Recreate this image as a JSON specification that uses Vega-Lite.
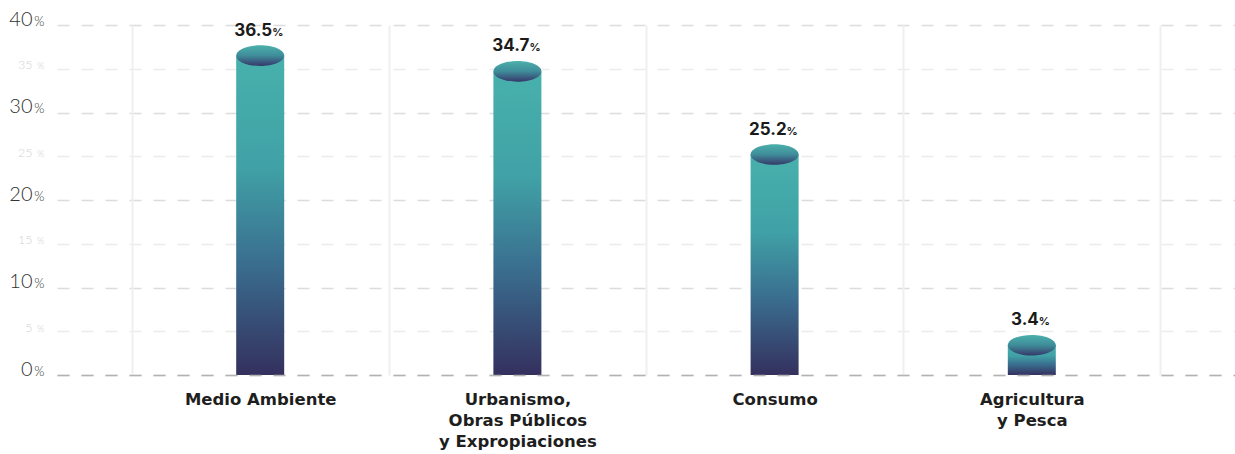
{
  "$schema": "https://vega.github.io/schema/vega-lite/v6.json",
  "width": 1178,
  "height": 350,
  "autosize": {"type": "none"},
  "padding": {"left": 57, "top": 25, "right": 0, "bottom": 79},
  "background": "white",
  "config": {"view": {"stroke": null}, "font": "Inter"},
  "data": {
    "values": [
      {"cat": "Medio Ambiente", "value": 36.5},
      {"cat": "Urbanismo,|Obras Públicos|y Expropiaciones", "value": 34.7},
      {"cat": "Consumo", "value": 25.2},
      {"cat": "Agricultura|y Pesca", "value": 3.4}
    ]
  },
  "encoding": {
    "x": {
      "field": "cat",
      "type": "nominal",
      "sort": null,
      "scale": {"paddingInner": 0, "paddingOuter": 0.29},
      "axis": {
        "title": null,
        "orient": "bottom",
        "labelExpr": "split(datum.label, '|')",
        "labelFont": "DejaVu Sans",
        "labelFontWeight": "bold",
        "labelFontSize": 16.5,
        "labelColor": "#1e1e1e",
        "labelLineHeight": 21,
        "labelPadding": 16,
        "labelAngle": 0,
        "labelBaseline": "top",
        "labelLimit": 300,
        "labelOverlap": false,
        "ticks": false,
        "tickBand": "extent",
        "grid": true,
        "gridColor": "#efefef",
        "gridWidth": 2,
        "domain": true,
        "domainColor": "#b3b3b3",
        "domainDash": [12, 12],
        "domainWidth": 1.5,
        "zindex": 1
      }
    }
  },
  "layer": [
    {
      "mark": {
        "type": "bar",
        "width": 48,
        "color": {
          "gradient": "linear",
          "x1": 0, "y1": 0, "x2": 0, "y2": 1,
          "stops": [
            {"offset": 0, "color": "#48b1ac"},
            {"offset": 0.35, "color": "#40a1a6"},
            {"offset": 0.65, "color": "#3a6e8f"},
            {"offset": 1, "color": "#34305e"}
          ]
        }
      },
      "encoding": {
        "y": {
          "field": "value",
          "type": "quantitative",
          "scale": {"domain": [0, 40], "nice": false},
          "axis": {
            "title": null,
            "orient": "left",
            "values": [0, 5, 10, 15, 20, 25, 30, 35, 40],
            "labelExpr": "datum.value",
            "labelFont": "Lato",
            "labelFontWeight": 300,
            "labelPadding": 25,
            "labelBaseline": "alphabetic",
            "labelFontSize": {"condition": {"test": "datum.value % 10 === 0", "value": 20}, "value": 12.5},
            "labelColor": {"condition": {"test": "datum.value % 10 === 0", "value": "#333333"}, "value": "#d2d2d2"},
            "domain": false,
            "ticks": false,
            "grid": true,
            "gridDash": [12, 12],
            "gridWidth": 1.5,
            "gridColor": {"condition": {"test": "datum.value % 10 === 0", "value": "#dcdcdc"}, "value": "#ececec"}
          }
        }
      }
    },
    {
      "mark": {
        "type": "point",
        "shape": "M-1,0A1,0.43,0,1,1,1,0A1,0.43,0,1,1,-1,0Z",
        "size": 2304,
        "filled": true,
        "opacity": 1,
        "strokeWidth": 0,
        "fill": {
          "gradient": "linear",
          "x1": 0, "y1": 0, "x2": 0, "y2": 1,
          "stops": [
            {"offset": 0, "color": "#4cb1ab"},
            {"offset": 0.5, "color": "#3f8c9a"},
            {"offset": 1, "color": "#36386a"}
          ]
        }
      },
      "encoding": {
        "y": {
          "field": "value",
          "type": "quantitative",
          "axis": {
            "title": null,
            "orient": "left",
            "values": [0, 5, 10, 15, 20, 25, 30, 35, 40],
            "labelExpr": "'%'",
            "labelFont": "Lato",
            "labelFontWeight": 300,
            "labelPadding": 13,
            "labelBaseline": "alphabetic",
            "labelFontSize": {"condition": {"test": "datum.value % 10 === 0", "value": 13}, "value": 9.5},
            "labelColor": {"condition": {"test": "datum.value % 10 === 0", "value": "#333333"}, "value": "#d2d2d2"},
            "domain": false,
            "ticks": false,
            "grid": false
          }
        }
      }
    },
    {
      "mark": {
        "type": "text",
        "font": "Inter",
        "fontWeight": "bold",
        "fontSize": 17,
        "color": "#1a1a1a",
        "align": "right",
        "baseline": "alphabetic",
        "dy": -20,
        "dx": {"expr": "(length(format(datum.value, '.1f')) - 1) * 5 - 3"}
      },
      "encoding": {
        "y": {"field": "value", "type": "quantitative", "axis": null},
        "text": {"field": "value", "type": "quantitative", "format": ".1f"}
      }
    },
    {
      "mark": {
        "type": "text",
        "font": "Inter",
        "fontWeight": "bold",
        "fontSize": 11,
        "color": "#1a1a1a",
        "align": "left",
        "baseline": "alphabetic",
        "dy": -20,
        "dx": {"expr": "(length(format(datum.value, '.1f')) - 1) * 5 - 3"}
      },
      "encoding": {
        "y": {"field": "value", "type": "quantitative", "axis": null},
        "text": {"value": "%"}
      }
    }
  ],
  "resolve": {"axis": {"y": "independent"}}
}
